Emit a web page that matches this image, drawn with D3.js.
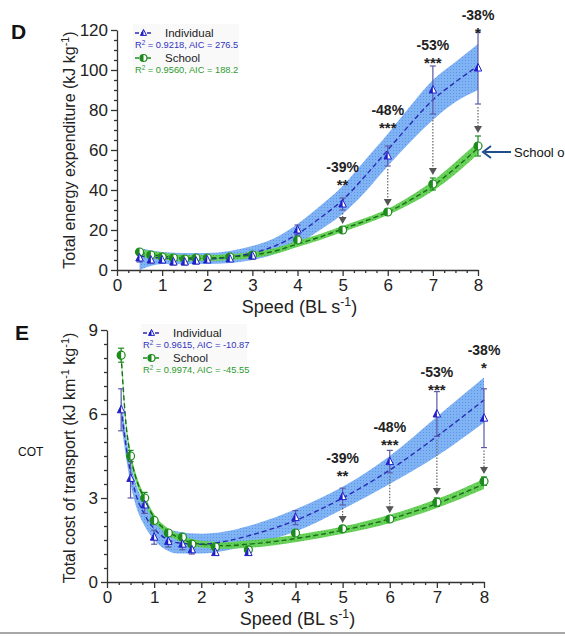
<!DOCTYPE html>
<html>
<head>
<meta charset="utf-8">
<script src="https://cdn.jsdelivr.net/npm/d3@7"></script>
<style>
body{margin:0;background:#fff;}
text{font-family:"Liberation Sans",Arial,sans-serif;}
</style>
</head>
<body>
<script>
// ---- panel D : total energy expenditure (kJ kg-1) ----
var speedD = [0.5,0.75,1,1.25,1.5,1.75,2,2.5,3,4,5,6,7,8]
var eeIndividual = [6,5,5,4,4,4.5,5,5.5,7,20,33,57,90,101]
var eeIndividualErr = [2,1.5,1.5,1.5,1.5,1.5,1,1,1.5,2.5,3,5,12,18]
var eeSchool = [9,7.5,6.5,6,5.5,6,6,6.5,7.5,15,20,29,43,62]
var eeSchoolErr = [1,1,1,1,1,1,1,1,1,1,1.5,1.5,3,5]

var fitSpeedD = [0.5,1,1.5,2,2.5,3,3.5,4,4.5,5,5.5,6,6.5,7,7.5,8]
var eeIndFit = [7,6,5.5,5.5,6.5,8.5,12,18,26,35,47,60,73,85,94,102]
var eeIndLo  = [0,3,3,3,3.5,5,8,13,20,28,39,52,64,75,84,90]
var eeIndHi  = [11,9,8.5,8.5,9.5,12,16,23,32,42,55,68,82,95,104,113]
var eeSchFit = [8.5,7,6,6,6.5,7.5,9.5,13,16.5,20.5,24.5,29,35,42,51,61]
var eeSchLo  = [6.5,5.3,4.5,4.5,5,6,8,11.5,15,19,23,27.5,33,39.5,48,58]
var eeSchHi  = [10.5,8.7,7.5,7.5,8,9,11,14.5,18,22,26,30.5,37,44.5,54,64]

var sigSpeedD = [5,6,7,8]
var sigLabelD = [51.5,80,112.5,127.5]

// ---- panel E : total cost of transport (kJ km-1 kg-1) ----
var speedE = [0.3,0.5,0.8,1,1.3,1.6,1.8,2.3,3,4,5,6,7,8]
var cotIndividual = [6.15,3.7,2.75,1.6,1.45,1.35,1.15,1.05,1.05,2.3,3.05,4.3,6.0,5.85]
var cotIndividualErr = [0.75,0.7,0.3,0.25,0.2,0.2,0.15,0.1,0.1,0.25,0.3,0.4,0.8,1.05]
var cotSchool = [8.1,4.5,3.0,2.2,1.75,1.6,1.35,1.25,1.15,1.75,1.9,2.25,2.85,3.6]
var cotSchoolErr = [0.25,0.2,0.2,0.1,0.1,0.1,0.1,0.05,0.05,0.1,0.1,0.1,0.15,0.15]

var fitSpeedE = [0.3,0.4,0.5,0.6,0.8,1,1.25,1.5,2,2.5,3,4,5,6,7,8]
var cotIndFit = [6.2,4.9,3.9,3.2,2.4,1.9,1.55,1.4,1.35,1.45,1.65,2.2,3.0,4.0,5.2,6.5]
var cotIndLo  = [5.7,4.5,3.5,2.8,2.0,1.5,1.15,1.02,1.02,1.12,1.3,1.8,2.6,3.5,4.5,5.7]
var cotIndHi  = [6.7,5.3,4.3,3.6,2.8,2.3,1.95,1.8,1.72,1.8,2.0,2.6,3.4,4.5,5.9,7.3]
var cotSchFit = [8.1,5.7,4.5,3.8,2.95,2.3,1.85,1.6,1.35,1.3,1.35,1.55,1.85,2.25,2.8,3.5]
var cotSchLo  = [7.9,5.55,4.35,3.65,2.82,2.18,1.73,1.48,1.23,1.18,1.22,1.42,1.72,2.1,2.64,3.32]
var cotSchHi  = [8.3,5.85,4.65,3.95,3.08,2.42,1.97,1.72,1.47,1.42,1.48,1.68,1.98,2.4,2.96,3.68]

var sigSpeedE = [5,6,7,8]
var sigLabelE = [4.43,5.54,7.5,8.29]

// shared labels
var sigPct = ["-39%","-48%","-53%","-38%"]
var sigStars = ["**","***","***","*"]
var xTicks = [0,1,2,3,4,5,6,7,8]
var yTicksD = [0,20,40,60,80,100,120]
var yTicksE = [0,3,6,9]
var statsD = ["0.9218","276.5","0.9560","188.2"]
var statsE = ["0.9615","-10.87","0.9974","-45.55"]

var blue = "#2a2ab4", blueBar = "#5a5aa8", green = "#1c8a1c"

var svg = d3.select("body").append("svg")
  .attr("width",565).attr("height",637)

// dotted textures for the confidence bands
var defs = svg.append("defs")
var pb = defs.append("pattern").attr("id","dotBlue").attr("width",3).attr("height",3)
  .attr("patternUnits","userSpaceOnUse")
pb.append("rect").attr("width",3).attr("height",3).attr("fill","#72aaf2")
pb.append("rect").attr("width",1).attr("height",1).attr("fill","#4a88e4")
var pg = defs.append("pattern").attr("id","dotGreen").attr("width",3).attr("height",3)
  .attr("patternUnits","userSpaceOnUse")
pg.append("rect").attr("width",3).attr("height",3).attr("fill","#62cf52")
pg.append("rect").attr("width",1).attr("height",1).attr("fill","#44b838")

var triangle = function(g, cx, cy, s, col)
{
    var h = s
    g.append("path")
      .attr("d","M"+cx+","+(cy-h*0.6)+"L"+(cx+s/2)+","+(cy+h*0.4)+"L"+(cx-s/2)+","+(cy+h*0.4)+"Z")
      .attr("fill","#fff").attr("stroke",col).attr("stroke-width",1)
    g.append("path")
      .attr("d","M"+cx+","+(cy-h*0.6)+"L"+cx+","+(cy+h*0.4)+"L"+(cx-s/2)+","+(cy+h*0.4)+"Z")
      .attr("fill",col)
}

var halfCircle = function(g, cx, cy, r, col)
{
    g.append("circle").attr("cx",cx).attr("cy",cy).attr("r",r)
      .attr("fill","#fff").attr("stroke",col).attr("stroke-width",1.2)
    g.append("path")
      .attr("d","M"+cx+","+(cy-r)+"A"+r+","+r+" 0 0 0 "+cx+","+(cy+r)+"Z")
      .attr("fill",col)
}

var supText = function(sel, parts)
{
    // parts: [text, isSuperscript, backToBaseline]
    parts.forEach(function(p){
        var t = sel.append("tspan").text(p[0])
        if(p[1]){ t.attr("font-size","0.68em").attr("dy","-0.55em") }
        else if(p[2]){ t.attr("dy","0.37em") }
    })
}

var drawPanel = function(p)
{
    var x = d3.scaleLinear().domain([0,8]).range(p.xRange)
    var y = d3.scaleLinear().domain(p.yDomain).range(p.yRange)
    var g = svg.append("g")

    var bandRows = function(fx, lo, hi, fit){
        return fx.map(function(s,i){ return {s:s, lo:lo[i], hi:hi[i], fit:fit[i]} })
    }
    var area = d3.area().x(function(d){return x(d.s)})
        .y0(function(d){return y(d.lo)}).y1(function(d){return y(d.hi)})
        .curve(d3.curveMonotoneX)
    var line = d3.line().x(function(d){return x(d.s)}).y(function(d){return y(d.fit)})
        .curve(d3.curveMonotoneX)

    var ind = bandRows(p.fitX, p.indLo, p.indHi, p.indFit)
    var sch = bandRows(p.fitX, p.schLo, p.schHi, p.schFit)

    g.append("path").datum(ind).attr("d",area).attr("fill","url(#dotBlue)").attr("opacity",0.9)
    g.append("path").datum(sch).attr("d",area).attr("fill","url(#dotGreen)").attr("opacity",0.95)
    g.append("path").datum(ind).attr("d",line).attr("fill","none")
      .attr("stroke",blue).attr("stroke-width",1.4).attr("stroke-dasharray","5,3")
    g.append("path").datum(sch).attr("d",line).attr("fill","none")
      .attr("stroke","#176e17").attr("stroke-width",1.4).attr("stroke-dasharray","5,3")

    // error bars
    var bars = function(vals, errs, col){
        p.speeds.forEach(function(s,i){
            var x0 = x(s), ya = y(vals[i]+errs[i]), yb = y(vals[i]-errs[i])
            g.append("line").attr("x1",x0).attr("x2",x0).attr("y1",ya).attr("y2",yb)
              .attr("stroke",col).attr("stroke-width",1.2)
            ;[ya,yb].forEach(function(yy){
                g.append("line").attr("x1",x0-3).attr("x2",x0+3).attr("y1",yy).attr("y2",yy)
                  .attr("stroke",col).attr("stroke-width",1.2)
            })
        })
    }
    bars(p.school, p.schoolErr, green)
    bars(p.ind, p.indErr, blueBar)

    // grey dotted arrows individual -> school
    p.sigX.forEach(function(s,k){
        var i = p.speeds.indexOf(s)
        var x0 = x(s)
        var y1 = y(p.ind[i]-p.indErr[i]) + 3
        var tip = y(p.school[i]+p.schoolErr[i]) - 3
        g.append("line").attr("x1",x0).attr("x2",x0).attr("y1",y1).attr("y2",tip-6)
          .attr("stroke","#666").attr("stroke-width",1.2).attr("stroke-dasharray","1.5,1.5")
        g.append("path").attr("d","M"+(x0-4)+","+(tip-7)+"L"+(x0+4)+","+(tip-7)+"L"+x0+","+tip+"Z")
          .attr("fill","#555")
        g.append("text").attr("x",x0).attr("y",y(p.sigY[k])+5)
          .attr("text-anchor","middle").attr("font-size",14).attr("font-weight","bold")
          .attr("fill","#222").text(sigPct[k])
        g.append("text").attr("x",x0).attr("y",y(p.sigY[k])+23)
          .attr("text-anchor","middle").attr("font-size",15).attr("font-weight","bold")
          .attr("fill","#222").text(sigStars[k])
    })

    // markers
    p.speeds.forEach(function(s,i){ halfCircle(g, x(s), y(p.school[i]), 4, green) })
    p.speeds.forEach(function(s,i){ triangle(g, x(s), y(p.ind[i]), 7.5, "#2020c8") })

    // axes
    var minorX = d3.range(0,8.01,0.25).filter(function(v){return xTicks.indexOf(v)<0})
    var minorY = d3.range(p.yDomain[0],p.yDomain[1]+0.001,p.yMinor)
        .filter(function(v){return p.yTicks.indexOf(+v.toFixed(3))<0})

    var ax = g.append("g").attr("transform","translate(0,"+p.yRange[0]+")")
      .call(d3.axisBottom(x).tickValues(xTicks).tickSize(6).tickPadding(3).tickSizeOuter(0))
    g.append("g").attr("transform","translate(0,"+p.yRange[0]+")")
      .call(d3.axisBottom(x).tickValues(minorX).tickSize(3).tickFormat("").tickSizeOuter(0))
      .select(".domain").remove()
    var ay = g.append("g").attr("transform","translate("+p.xRange[0]+",0)")
      .call(d3.axisLeft(y).tickValues(p.yTicks).tickSize(6).tickPadding(3).tickSizeOuter(0))
    g.append("g").attr("transform","translate("+p.xRange[0]+",0)")
      .call(d3.axisLeft(y).tickValues(minorY).tickSize(3).tickFormat("").tickSizeOuter(0))
      .select(".domain").remove()
    g.selectAll(".domain, .tick line").attr("stroke","#333").attr("stroke-width",1.3)
    ax.selectAll("text").attr("font-size",17).attr("fill","#222")
      .attr("font-family","'Liberation Sans',Arial,sans-serif")
    ay.selectAll("text").attr("font-size",17).attr("fill","#222")
      .attr("font-family","'Liberation Sans',Arial,sans-serif")

    // titles
    var xt = g.append("text").attr("x",(p.xRange[0]+p.xRange[1])/2+2).attr("y",p.yRange[0]+43)
      .attr("text-anchor","middle").attr("font-size",18).attr("fill","#222")
    supText(xt, [["Speed (BL s"],["-1",true],[")",false,true]])

    var yt = g.append("text")
      .attr("transform","translate("+p.yTitleX+","+p.yTitleY+") rotate(-90)")
      .attr("text-anchor","middle").attr("font-size",16).attr("fill","#222")
    supText(yt, p.yTitle)

    g.append("text").attr("x",p.letterX).attr("y",p.letterY).attr("font-size",21)
      .attr("font-weight","bold").attr("fill","#111").text(p.letter)

    // legend
    var lg = g.append("g").attr("transform","translate("+p.legX+","+p.legY+")")
    lg.append("rect").attr("x",-2).attr("y",-9).attr("width",106).attr("height",46)
      .attr("fill","#f9f9f9")
    lg.append("line").attr("x1",0).attr("x2",17).attr("y1",0).attr("y2",0)
      .attr("stroke",blue).attr("stroke-width",1.4).attr("stroke-dasharray","4,2")
    triangle(lg, 8.5, 0, 6, "#2020c8")
    lg.append("text").attr("x",30).attr("y",4).attr("font-size",11.5).attr("fill","#222").text("Individual")
    supText(lg.append("text").attr("x",0).attr("y",15).attr("font-size",9.3).attr("fill","#3232c0"),
        [["R"],["2",true],[" = "+p.stats[0]+", AIC = "+p.stats[1],false,true]])
    lg.append("line").attr("x1",0).attr("x2",17).attr("y1",25).attr("y2",25)
      .attr("stroke",green).attr("stroke-width",1.4).attr("stroke-dasharray","4,2")
    halfCircle(lg, 8.5, 25, 3.5, green)
    lg.append("text").attr("x",30).attr("y",29).attr("font-size",11.5).attr("fill","#222").text("School")
    supText(lg.append("text").attr("x",0).attr("y",40).attr("font-size",9.3).attr("fill","#2e9a2e"),
        [["R"],["2",true],[" = "+p.stats[2]+", AIC = "+p.stats[3],false,true]])
}

drawPanel({
    xRange:[117,478], yDomain:[0,120], yRange:[270,30], yTicks:yTicksD, yMinor:5,
    speeds:speedD, ind:eeIndividual, indErr:eeIndividualErr, school:eeSchool, schoolErr:eeSchoolErr,
    fitX:fitSpeedD, indFit:eeIndFit, indLo:eeIndLo, indHi:eeIndHi,
    schFit:eeSchFit, schLo:eeSchLo, schHi:eeSchHi,
    sigX:sigSpeedD, sigY:sigLabelD, stats:statsD,
    yTitle:[["Total energy expenditure (kJ kg"],["-1",true],[")",false,true]],
    yTitleX:75, yTitleY:150, letter:"D", letterX:11, letterY:39, legX:135, legY:33
})

drawPanel({
    xRange:[107,484], yDomain:[0,9], yRange:[582,330], yTicks:yTicksE, yMinor:0.5,
    speeds:speedE, ind:cotIndividual, indErr:cotIndividualErr, school:cotSchool, schoolErr:cotSchoolErr,
    fitX:fitSpeedE, indFit:cotIndFit, indLo:cotIndLo, indHi:cotIndHi,
    schFit:cotSchFit, schLo:cotSchLo, schHi:cotSchHi,
    sigX:sigSpeedE, sigY:sigLabelE, stats:statsE,
    yTitle:[["Total cost of transport (kJ km"],["-1",true],[" kg",false,true],["-1",true],[")",false,true]],
    yTitleX:75, yTitleY:458, letter:"E", letterX:15, letterY:340, legX:143, legY:333
})

// side notes
svg.append("text").attr("x",18).attr("y",456).attr("font-size",12).attr("fill","#111").text("COT")
svg.append("text").attr("x",514).attr("y",157).attr("font-size",13).attr("fill","#111").text("School o")
svg.append("line").attr("x1",511).attr("x2",485).attr("y1",152).attr("y2",152)
  .attr("stroke","#1f4e8c").attr("stroke-width",2)
svg.append("path").attr("d","M491,146L483,152L491,158").attr("fill","none")
  .attr("stroke","#1f4e8c").attr("stroke-width",2)
svg.append("line").attr("x1",0).attr("x2",565).attr("y1",633).attr("y2",633)
  .attr("stroke","#a8a8a8").attr("stroke-width",2)
</script>
</body>
</html>
